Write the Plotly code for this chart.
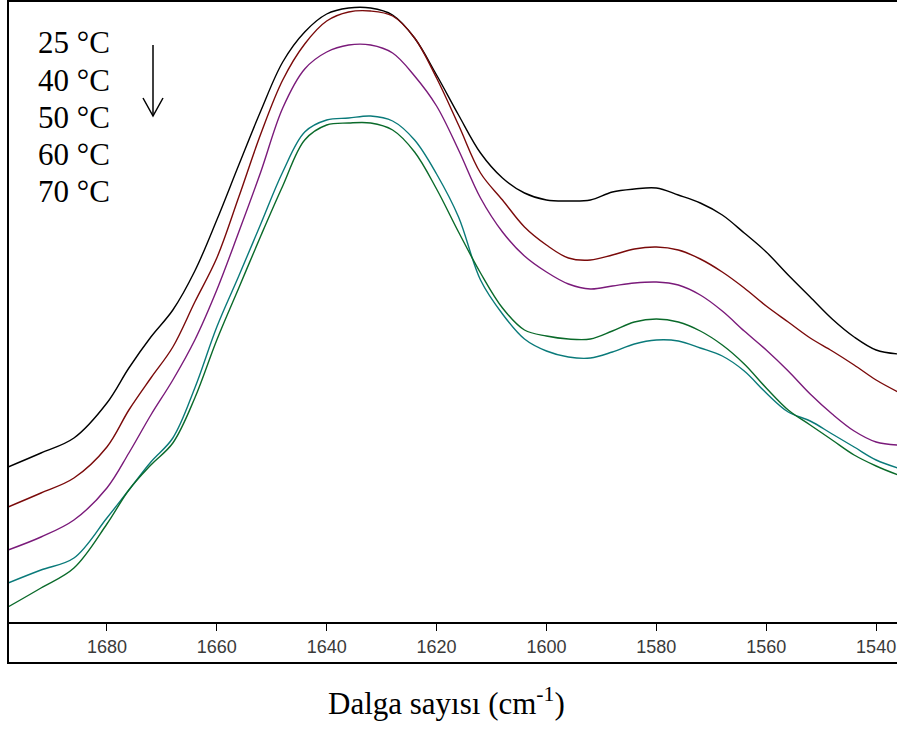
import plotly.graph_objects as go

# Wavenumber grid (cm^-1)
wavenumber = [1698, 1692, 1686, 1680, 1676, 1672, 1668, 1664, 1660, 1656,
              1652, 1648, 1644, 1640, 1636, 1632, 1628, 1624, 1620, 1616,
              1612, 1608, 1604, 1600, 1596, 1592, 1588, 1584, 1580, 1576,
              1572, 1568, 1564, 1560, 1556, 1552, 1548, 1544, 1540, 1536]

# Absorbance (arbitrary units)
abs_25 = [0.155, 0.169, 0.184, 0.219, 0.254, 0.285, 0.312, 0.351, 0.402, 0.457,
          0.511, 0.560, 0.590, 0.608, 0.614, 0.614, 0.607, 0.584, 0.547, 0.507,
          0.469, 0.444, 0.429, 0.422, 0.421, 0.422, 0.430, 0.433, 0.434, 0.427,
          0.419, 0.407, 0.389, 0.370, 0.347, 0.325, 0.303, 0.285, 0.272, 0.268]
abs_40 = [0.115, 0.129, 0.144, 0.175, 0.212, 0.244, 0.275, 0.320, 0.364, 0.425,
          0.488, 0.542, 0.578, 0.601, 0.610, 0.611, 0.606, 0.584, 0.544, 0.497,
          0.449, 0.422, 0.395, 0.377, 0.364, 0.362, 0.367, 0.373, 0.375, 0.372,
          0.363, 0.350, 0.334, 0.316, 0.300, 0.284, 0.271, 0.257, 0.242, 0.230]
abs_50 = [0.072, 0.085, 0.102, 0.134, 0.169, 0.207, 0.242, 0.282, 0.332, 0.390,
          0.450, 0.514, 0.553, 0.570, 0.577, 0.577, 0.569, 0.546, 0.516, 0.472,
          0.424, 0.390, 0.366, 0.350, 0.338, 0.333, 0.336, 0.339, 0.340, 0.337,
          0.327, 0.311, 0.291, 0.272, 0.251, 0.228, 0.208, 0.191, 0.180, 0.177]
abs_60 = [0.039, 0.052, 0.064, 0.104, 0.132, 0.160, 0.184, 0.234, 0.295, 0.346,
          0.398, 0.450, 0.490, 0.502, 0.504, 0.506, 0.501, 0.482, 0.448, 0.405,
          0.342, 0.308, 0.283, 0.271, 0.265, 0.264, 0.270, 0.278, 0.282, 0.281,
          0.274, 0.266, 0.251, 0.229, 0.210, 0.201, 0.188, 0.175, 0.162, 0.154]
abs_70 = [0.015, 0.034, 0.054, 0.098, 0.132, 0.157, 0.179, 0.224, 0.282, 0.334,
          0.386, 0.436, 0.482, 0.497, 0.499, 0.499, 0.492, 0.470, 0.433, 0.390,
          0.349, 0.314, 0.292, 0.286, 0.283, 0.283, 0.291, 0.300, 0.303, 0.300,
          0.291, 0.277, 0.258, 0.234, 0.212, 0.197, 0.182, 0.167, 0.156, 0.147]

series_names = ["25 °C", "40 °C", "50 °C", "60 °C", "70 °C"]
series_values = [abs_25, abs_40, abs_50, abs_60, abs_70]
series_colors = ["#000000", "#7a0a0a", "#7a1a7a", "#0a7a7a", "#0a6a2a"]

tick_values = [1680, 1660, 1640, 1620, 1600, 1580, 1560, 1540]
tick_labels = ["1680", "1660", "1640", "1620", "1600", "1580", "1560", "1540"]

W, H = 897, 729
L, T, B = 8, 1, 107
plot_h = H - T - B
plot_w = W - L


def px(xp):
    return (xp - L) / plot_w


def py(yp):
    return (H - B - yp) / plot_h


fig = go.Figure()
for name, vals, col in zip(series_names, series_values, series_colors):
    fig.add_trace(go.Scatter(x=wavenumber, y=vals, mode="lines", name=name,
                             line=dict(color=col, width=1.4, shape="spline", smoothing=1.0)))

fig.update_layout(
    width=W, height=H,
    margin=dict(l=L, r=0, t=T, b=B, pad=0),
    paper_bgcolor="white", plot_bgcolor="white",
    showlegend=False,
    xaxis=dict(range=[1698, 1536.2], tickvals=tick_values, ticktext=tick_labels,
               showgrid=False, zeroline=False, showline=True, linecolor="black",
               linewidth=2, ticks="outside", ticklen=7, tickwidth=1.2,
               tickcolor="black",
               tickfont=dict(family="Liberation Sans, Arial", size=18, color="#3a3a3a")),
    yaxis=dict(range=[0, 0.621], showgrid=False, zeroline=False, showline=False,
               showticklabels=False, ticks=""),
)

# outer frame of the chart box
fig.add_shape(type="rect", xref="paper", yref="paper",
              x0=0, x1=1.02, y0=py(663), y1=1,
              line=dict(color="black", width=2), fillcolor="rgba(0,0,0,0)")

# temperature labels
label_y = [43, 80, 117, 154, 191]
for name, yc in zip(series_names, label_y):
    fig.add_annotation(text=name, xref="paper", yref="paper", x=px(36), y=py(yc),
                       xanchor="left", yanchor="middle", showarrow=False,
                       font=dict(family="Liberation Serif, Times New Roman", size=31, color="black"))

# arrow (open V head)
fig.add_shape(type="line", xref="paper", yref="paper", x0=px(153), x1=px(153),
              y0=py(45), y1=py(116), line=dict(color="black", width=1.5))
fig.add_shape(type="path", xref="paper", yref="paper",
              path=f"M {px(143)} {py(98)} L {px(153)} {py(116)} L {px(163)} {py(98)}",
              line=dict(color="black", width=1.5))

# axis title
fig.add_annotation(text="Dalga sayısı (cm<sup>-1</sup>)", xref="paper", yref="paper",
                   x=px(446), y=py(701), xanchor="center", yanchor="middle", showarrow=False,
                   font=dict(family="Liberation Serif, Times New Roman", size=31, color="black"))

fig.write_html("out.html")
